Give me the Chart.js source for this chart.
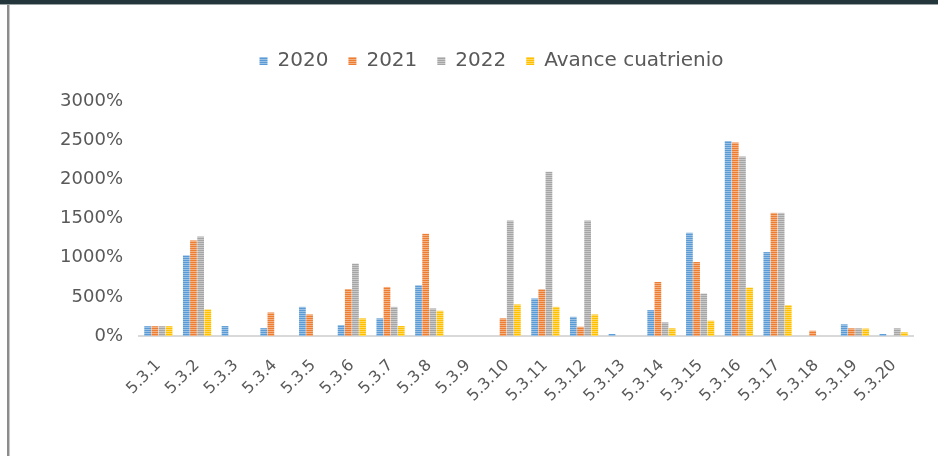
<!DOCTYPE html>
<html>
<head>
<meta charset="utf-8">
<script src="https://cdn.jsdelivr.net/npm/chart.js@4.4.1/dist/chart.umd.min.js"></script>
<style>
    html, body { margin: 0; padding: 0; background: #ffffff; }
    #wrap { position: relative; width: 938px; height: 456px; overflow: hidden; }
    #topBar { position: absolute; left: 0; top: 0; width: 938px; height: 4px; background: #22363c; border-bottom: 1px solid #9aa2a4; }
    #leftBar { position: absolute; left: 7px; top: 5px; width: 2px; height: 451px; background: #8c8c8c; border-right: 1px solid #c8c8c8; }
    canvas { position: absolute; left: 0; top: 0; }
</style>
</head>
<body>
<div id="wrap">
    <canvas id="chartAvance" width="938" height="456"></canvas>
    <div id="topBar"></div>
    <div id="leftBar"></div>
</div>
<script>
// ===========================
// DATOS
// ===========================
const categorias = ['5.3.1', '5.3.2', '5.3.3', '5.3.4', '5.3.5', '5.3.6', '5.3.7', '5.3.8', '5.3.9', '5.3.10',
    '5.3.11', '5.3.12', '5.3.13', '5.3.14', '5.3.15', '5.3.16', '5.3.17', '5.3.18', '5.3.19', '5.3.20'];

const valores2020 = [125, 1030, 127, 100, 372, 140, 225, 648, 0, 0, 479, 245, 25, 330, 1318, 2490, 1071, 0, 149, 25];
const valores2021 = [125, 1220, 0, 300, 275, 600, 626, 1305, 0, 225, 597, 118, 0, 690, 944, 2469, 1572, 67, 98, 0];
const valores2022 = [125, 1270, 0, 0, 0, 924, 372, 352, 0, 1474, 2097, 1474, 0, 174, 542, 2291, 1572, 0, 98, 98];
const valoresAvance = [125, 340, 0, 0, 0, 225, 127, 322, 0, 403, 372, 275, 0, 98, 195, 618, 394, 0, 95, 47];

const ticksY = [0, 500, 1000, 1500, 2000, 2500, 3000];

// ===========================
// TRAMA DE BARRAS (rayado horizontal)
// ===========================
function makeStripes(base, light) {
    const c = document.createElement('canvas');
    c.width = 4;
    c.height = 2;
    const g = c.getContext('2d');
    g.fillStyle = base;
    g.fillRect(0, 0, 4, 1);
    g.fillStyle = light;
    g.fillRect(0, 1, 4, 1);
    return g.createPattern(c, 'repeat');
}

const ctx = document.getElementById('chartAvance');

const fillBlue = makeStripes('#5b9bd5', '#9cc3e6');
const fillOrange = makeStripes('#ed7d31', '#f4b183');
const fillGray = makeStripes('#a5a5a5', '#c9c9c9');
const fillYellow = makeStripes('#ffc000', '#ffd966');

const textColor = '#595959';
const fontFamily = '"DejaVu Sans", sans-serif';

// Ajuste de la leyenda: más espacio debajo y desplazada a la derecha
const legendTweak = {
    id: 'legendTweak',
    afterInit(chart) {
        const legend = chart.legend;
        const fitOrig = legend.fit;
        legend.fit = function () {
            fitOrig.call(this);
            this.height += 20;
        };
    },
    afterLayout(chart) {
        chart.legend.left += 60;
    }
};

new Chart(ctx, {
    type: 'bar',
    data: {
        labels: categorias,
        datasets: [
            { label: '2020', data: valores2020, backgroundColor: fillBlue },
            { label: '2021', data: valores2021, backgroundColor: fillOrange },
            { label: '2022', data: valores2022, backgroundColor: fillGray },
            { label: 'Avance cuatrienio', data: valoresAvance, backgroundColor: fillYellow }
        ]
    },
    plugins: [legendTweak],
    options: {
        responsive: false,
        animation: false,
        devicePixelRatio: 1,
        categoryPercentage: 0.74,
        barPercentage: 0.94,
        layout: {
            padding: { left: 10, right: 25, top: 31, bottom: 40 }
        },
        plugins: {
            legend: {
                position: 'top',
                labels: {
                    color: textColor,
                    font: { family: fontFamily, size: 20 },
                    boxWidth: 8,
                    boxHeight: 8,
                    padding: 20
                }
            },
            tooltip: { enabled: false }
        },
        scales: {
            y: {
                min: 0,
                max: 3000,
                afterFit: (scale) => { scale.width = 129; },
                afterBuildTicks: (scale) => { scale.ticks = ticksY.map(v => ({ value: v })); },
                ticks: {
                    color: textColor,
                    font: { family: fontFamily, size: 18 },
                    padding: 8,
                    callback: (v) => v + '%'
                },
                grid: { display: false },
                border: { display: false }
            },
            x: {
                afterFit: (scale) => { scale.height = 80; },
                ticks: {
                    color: textColor,
                    font: { family: fontFamily, size: 16 },
                    maxRotation: 45,
                    minRotation: 45,
                    padding: 12
                },
                grid: { display: false },
                border: { display: true, color: '#d9d9d9', width: 2 }
            }
        }
    }
});
</script>
</body>
</html>
